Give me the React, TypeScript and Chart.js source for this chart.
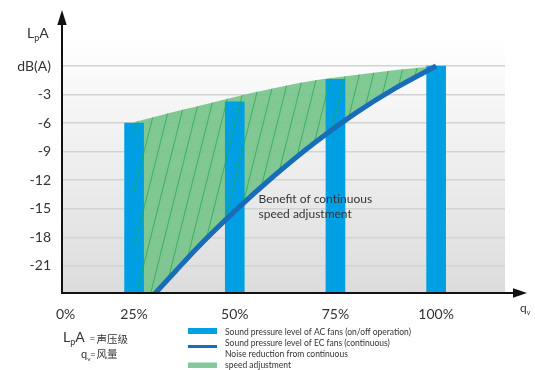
import React, { useEffect, useRef } from 'react';
import { Chart, registerables } from 'chart.js';

Chart.register(...registerables);

// ---- data ----
const FLOW = [25, 30, 35, 40, 50, 60, 70, 80, 90, 100];
const UPPER = [-5.9, -5.35, -4.8, -4.3, -3.25, -2.3, -1.5, -0.95, -0.42, 0];
const EC = [-26.4, -24.0, -21.7, -19.4, -15.25, -11.45, -8.0, -4.95, -2.3, 0];
const AC_FLOW = [25, 50, 75, 100];
const AC = [-6, -3.75, -1.4, 0];
const Y_TICKS = [0, -3, -6, -9, -12, -15, -18, -21];
const X_TICK_VALUES = [8, 25, 50, 75, 100];
const X_TICK_LABELS = ['0%', '25%', '50%', '75%', '100%'];
const Y_MIN = -23.85;
const Y_MAX = 2.95;
const X_MIN = 7.1;
const X_MAX = 117.1;
const LEGEND = [
  'Sound pressure level of AC fans (on/off operation)',
  'Sound pressure level of EC fans (continuous)',
  'Noise reduction from continuous',
  'speed adjustment',
];
const NOTE = ['Benefit of continuous', 'speed adjustment'];

const BLUE = '#009fe3';
const DARK_BLUE = '#176db7';
const GREEN = 'rgba(116,195,138,0.9)';
const LEGEND_GREEN = '#84c99b';
const TEXT = '#333333';
const FONT = 'Lato, "Open Sans", sans-serif';

const decorations = {
  id: 'decorations',
  beforeDraw(chart: any) {
    const { ctx, chartArea: a } = chart;
    ctx.save();
    const g = ctx.createLinearGradient(0, a.top, 0, a.bottom);
    g.addColorStop(0, '#ffffff');
    g.addColorStop(1, '#dcdcdc');
    ctx.fillStyle = g;
    ctx.fillRect(a.left, a.top, a.right - a.left, a.bottom - a.top);
    ctx.restore();
  },
  afterDraw(chart: any) {
    const { ctx, chartArea: a } = chart;
    ctx.save();
    // axes
    ctx.strokeStyle = '#111';
    ctx.fillStyle = '#111';
    ctx.lineWidth = 2;
    ctx.beginPath();
    ctx.moveTo(a.left - 1, a.bottom);
    ctx.lineTo(a.right + 9, a.bottom);
    ctx.stroke();
    ctx.beginPath();
    ctx.moveTo(a.right + 22, a.bottom);
    ctx.lineTo(a.right + 8, a.bottom - 4.7);
    ctx.lineTo(a.right + 8, a.bottom + 4.7);
    ctx.closePath();
    ctx.fill();
    ctx.beginPath();
    ctx.moveTo(a.left, a.bottom + 1);
    ctx.lineTo(a.left, a.top - 14);
    ctx.stroke();
    ctx.beginPath();
    ctx.moveTo(a.left, a.top - 28);
    ctx.lineTo(a.left - 4.7, a.top - 13);
    ctx.lineTo(a.left + 4.7, a.top - 13);
    ctx.closePath();
    ctx.fill();

    const seq = (parts: [string, string, number][], x: number) => {
      let cx = x;
      for (const [t, f, dy] of parts) {
        ctx.font = f;
        ctx.fillText(t, cx, dy);
        cx += ctx.measureText(t).width;
      }
    };

    ctx.fillStyle = TEXT;
    ctx.textBaseline = 'alphabetic';
    ctx.textAlign = 'left';
    // y axis title
    seq([
      ['L', `14px ${FONT}`, 38],
      ['p', `9px ${FONT}`, 40.5],
      ['A', `14px ${FONT}`, 38],
    ], 27);
    // x axis title
    seq([
      ['q', `12px ${FONT}`, 312],
      ['v', `7px ${FONT}`, 315],
    ], 520);

    // annotation
    ctx.font = `12px ${FONT}`;
    ctx.textBaseline = 'middle';
    ctx.fillText(NOTE[0], 258.5, 199.5);
    ctx.fillText(NOTE[1], 258.5, 214);

    // bottom-left definitions
    ctx.textBaseline = 'alphabetic';
    seq([
      ['L', `14px ${FONT}`, 342],
      ['p', `9px ${FONT}`, 344.5],
      ['A', `14px ${FONT}`, 342],
    ], 63);
    ctx.font = `10px ${FONT}`;
    ctx.fillText('=', 89.5, 342);
    ctx.font = `10.5px "Noto Sans CJK SC", sans-serif`;
    ctx.fillText('声压级', 96.5, 342.5);
    seq([
      ['q', `11px ${FONT}`, 358],
      ['v', `6.5px ${FONT}`, 360.5],
    ], 81);
    ctx.font = `10px ${FONT}`;
    ctx.fillText('=', 90, 357.5);
    ctx.font = `10.5px "Noto Sans CJK SC", sans-serif`;
    ctx.fillText('风量', 96.5, 358);

    // legend
    ctx.fillStyle = BLUE;
    ctx.fillRect(188, 328, 29, 6);
    ctx.strokeStyle = DARK_BLUE;
    ctx.lineWidth = 3;
    ctx.beginPath();
    ctx.moveTo(188, 346.5);
    ctx.lineTo(217, 346.5);
    ctx.stroke();
    ctx.fillStyle = LEGEND_GREEN;
    ctx.fillRect(188, 362.5, 29, 5.5);
    ctx.fillStyle = TEXT;
    ctx.font = `8.5px ${FONT}`;
    ctx.textBaseline = 'middle';
    ctx.fillText(LEGEND[0], 225, 332);
    ctx.fillText(LEGEND[1], 225, 343.5);
    ctx.fillText(LEGEND[2], 225, 354.5);
    ctx.fillText(LEGEND[3], 225, 365.5);
    ctx.restore();
  },
};

export default function App() {
  const ref = useRef<HTMLCanvasElement>(null);

  useEffect(() => {
    const canvas = ref.current;
    if (!canvas) return;
    const ctx = canvas.getContext('2d')!;

    const pc = document.createElement('canvas');
    pc.width = 14;
    pc.height = 56;
    const pctx = pc.getContext('2d')!;
    pctx.strokeStyle = 'rgba(28,172,78,0.75)';
    pctx.lineWidth = 1;
    for (const dx of [-14, 0, 14]) {
      pctx.beginPath();
      pctx.moveTo(dx, 56);
      pctx.lineTo(dx + 14, 0);
      pctx.stroke();
    }
    const hatch = ctx.createPattern(pc, 'repeat');

    const upperPts = FLOW.map((x, i) => ({ x, y: UPPER[i] }));
    const ecPts = FLOW.map((x, i) => ({ x, y: EC[i] }));
    const acPts = AC_FLOW.map((x, i) => ({ x, y: AC[i] }));

    const chart = new Chart(canvas, {
      type: 'line',
      data: {
        datasets: [
          {
            type: 'line',
            label: 'Noise reduction from continuous speed adjustment',
            data: upperPts,
            fill: 3,
            backgroundColor: GREEN,
            borderColor: 'rgba(0,0,0,0)',
            borderWidth: 0,
            pointRadius: 0,
            cubicInterpolationMode: 'monotone',
            order: 4,
          },
          {
            type: 'bar',
            label: 'Sound pressure level of AC fans (on/off operation)',
            data: acPts,
            backgroundColor: BLUE,
            borderWidth: 0,
            barThickness: 19,
            base: Y_MIN,
            order: 3,
          },
          {
            type: 'line',
            label: 'hatch',
            data: upperPts,
            fill: 3,
            backgroundColor: hatch as any,
            borderColor: 'rgba(0,0,0,0)',
            borderWidth: 0,
            pointRadius: 0,
            cubicInterpolationMode: 'monotone',
            order: 2,
          },
          {
            type: 'line',
            label: 'Sound pressure level of EC fans (continuous)',
            data: ecPts,
            fill: false,
            borderColor: DARK_BLUE,
            borderWidth: 5,
            pointRadius: 0,
            cubicInterpolationMode: 'monotone',
            clip: 0,
            order: 1,
          },
        ] as any,
      },
      options: {
        animation: false,
        responsive: false,
        events: [],
        layout: { padding: { top: 38, right: 30, left: 0, bottom: 0 } },
        plugins: {
          legend: { display: false },
          tooltip: { enabled: false },
        },
        scales: {
          x: {
            type: 'linear',
            min: X_MIN,
            max: X_MAX,
            offset: false,
            grid: { display: false, drawTicks: false },
            border: { display: false },
            afterBuildTicks: (scale: any) => {
              scale.ticks = X_TICK_VALUES.map((v) => ({ value: v }));
            },
            afterFit: (scale: any) => {
              scale.height = 77;
            },
            ticks: {
              autoSkip: false,
              maxRotation: 0,
              padding: 13,
              color: TEXT,
              font: { family: FONT, size: 14 },
              callback: (_v: any, i: number) => X_TICK_LABELS[i],
            },
          },
          y: {
            type: 'linear',
            min: Y_MIN,
            max: Y_MAX,
            grid: { color: '#d3d3d3', lineWidth: 1.5, drawTicks: false },
            border: { display: false },
            afterBuildTicks: (scale: any) => {
              scale.ticks = Y_TICKS.map((v) => ({ value: v }));
            },
            afterFit: (scale: any) => {
              scale.width = 62;
            },
            ticks: {
              padding: 11,
              color: TEXT,
              font: { family: FONT, size: 14 },
              callback: (v: any) => (Number(v) === 0 ? 'dB(A)' : String(v)),
            },
          },
        },
      } as any,
      plugins: [decorations],
    });

    return () => chart.destroy();
  }, []);

  return (
    <div style={{ position: 'fixed', left: 0, top: 0, width: 535, height: 370, background: '#fff' }}>
      <canvas ref={ref} width={535} height={370} style={{ display: 'block' }} />
    </div>
  );
}
